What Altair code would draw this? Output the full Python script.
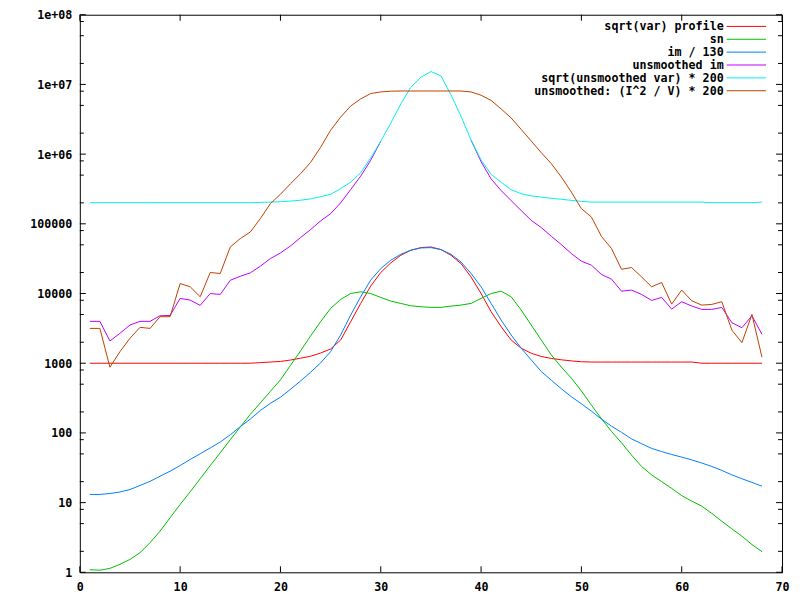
import altair as alt
import pandas as pd

x_vals = list(range(1, 69))

sqrt_var_profile = [1000, 1000, 1000, 1000, 1000, 1000, 1000, 1000, 1000, 1000,
                    1000, 1000, 1000, 1000, 1000, 1000, 1000, 1020, 1040, 1060,
                    1110, 1180, 1260, 1400, 1600, 2150, 3940, 7210, 12800, 20000,
                    27500, 35400, 41800, 45600, 46600, 42700, 35400, 26900, 17300, 10000,
                    5480, 3340, 2150, 1640, 1390, 1250, 1170, 1120, 1080, 1050,
                    1040, 1040, 1040, 1040, 1040, 1040, 1040, 1040, 1040, 1040,
                    1040, 1000, 1000, 1000, 1000, 1000, 1000, 1000]

sn = [1.09, 1.07, 1.14, 1.30, 1.53, 1.91, 2.66, 3.9, 6.06, 9.4,
      14.3, 22, 34, 52, 80, 122, 185, 270, 395, 577,
      930, 1500, 2450, 3940, 6110, 8230, 10000, 10600, 10000, 8790,
      7780, 7210, 6670, 6460, 6330, 6330, 6600, 6830, 7210, 8510,
      10000, 10800, 8980, 5790, 3530, 2150, 1315, 880, 610, 400,
      250, 160, 105, 72, 48, 33, 25, 20, 16, 12.6,
      10.5, 8.9, 7, 5.4, 4.2, 3.3, 2.5, 1.98]

im_130 = [13.1, 13.1, 13.5, 14.2, 15.4, 17.6, 20.2, 23.9, 28.2, 34,
          41.6, 50.3, 60.8, 74, 94, 123, 158, 210, 266, 325,
          422, 556, 740, 1010, 1466, 2540, 4910, 8980, 15600, 22800,
          30000, 36600, 41800, 45100, 45600, 42700, 36600, 28400, 19400, 12500,
          7210, 4160, 2540, 1640, 1115, 760, 570, 430, 330, 262,
          205, 158, 125, 102, 82, 70, 60, 54, 49, 45,
          41, 37, 33, 29, 25, 22, 19.5, 17.2]

unsmoothed_im = [3990, 3990, 2085, 2690, 3530, 3990, 3990, 4800, 4850, 8510,
                 8050, 6760, 10000, 9700, 15500, 17700, 19800, 24700, 31800, 38200,
                 48100, 63400, 82600, 110000, 140000, 200000, 310000, 484000, 818000, 1530000,
                 2790000, 5250000, 9100000, 12700000, 15300000, 13300000, 7100000, 3500000, 1590000, 780000,
                 440000, 300000, 215000, 155000, 112000, 88300, 66200, 50400, 37400, 29100,
                 25500, 18800, 16100, 10800, 11200, 9700, 7960, 8790, 5980, 7620,
                 6610, 5920, 5920, 6320, 3810, 3230, 4800, 2600]

sqrt_unsm_var = [201000, 201000, 201000, 201000, 201000, 201000, 201000, 201000, 201000, 201000,
                 201000, 201000, 201000, 201000, 201000, 201000, 201000, 203000, 205000, 208000,
                 212000, 218000, 228000, 245000, 265000, 320000, 395000, 540000, 880000, 1530000,
                 2790000, 5250000, 9100000, 12700000, 15300000, 13300000, 7100000, 3500000, 1590000, 824000,
                 513000, 395000, 309000, 270000, 252000, 242000, 232000, 225000, 217000, 210000,
                 205000, 205000, 205000, 205000, 205000, 205000, 205000, 205000, 205000, 205000,
                 205000, 205000, 201000, 201000, 201000, 201000, 201000, 205000]

unsm_i2_v = [3160, 3160, 877, 1465, 2280, 3270, 3160, 4650, 4650, 13900,
             12500, 8980, 20000, 19400, 46600, 61400, 76400, 119000, 195000, 265000,
             376000, 523000, 760000, 1250000, 2200000, 3400000, 4900000, 6200000, 7400000, 7800000,
             8000000, 8050000, 8050000, 8050000, 8050000, 8050000, 8050000, 8050000, 7800000, 7000000,
             5900000, 4450000, 3300000, 2260000, 1540000, 1050000, 730000, 470000, 285000, 165000,
             125000, 66000, 44200, 22300, 23600, 17300, 12500, 14400, 7050, 11200,
             7870, 6820, 6980, 7620, 2990, 1970, 5020, 1220]

series_names = ["sqrt(var) profile", "sn", "im / 130", "unsmoothed im",
                "sqrt(unsmoothed var) * 200", "unsmoothed: (I^2 / V) * 200"]
series_values = [sqrt_var_profile, sn, im_130, unsmoothed_im, sqrt_unsm_var, unsm_i2_v]
series_colors = ["#ff0000", "#00c000", "#0080ff", "#c000ff", "#00eeee", "#c04000"]

# stretch of "unsmoothed im" that lies exactly under the cyan curve (hidden in the original)
hidden_range = (31, 38)

x_ticks = [0, 10, 20, 30, 40, 50, 60, 70]
y_major = [1, 10, 100, 1000, 10000, 100000, 1000000, 10000000, 100000000]
y_minor = [m * d for d in [1, 10, 100, 1000, 10000, 100000, 1000000, 10000000] for m in (2, 5, 8)]

W, H = 704, 559
FONT = "DejaVu Sans Mono"
FS = 11.7

xscale = alt.Scale(domain=[0, 70], nice=False, zero=False)
yscale = alt.Scale(type="log", domain=[1, 1e8], nice=False)

xaxis = alt.Axis(values=x_ticks, tickSize=0, labelPadding=9, domain=False, grid=False,
                 title=None, labelFont=FONT, labelFontSize=FS, labelFontWeight="bold",
                 labelColor="black", labelFlush=False)
yaxis = alt.Axis(values=y_major, tickSize=0, labelPadding=8, domain=False, grid=False,
                 title=None, labelFont=FONT, labelFontSize=FS, labelFontWeight="bold",
                 labelColor="black", labelFlush=False,
                 labelExpr="datum.value >= 1000000 ? replace(format(datum.value, '.0e'), 'e+', 'e+0') : format(datum.value, 'd')")

X = lambda: alt.X("x:Q", scale=xscale, axis=xaxis)
Y = lambda: alt.Y("y:Q", scale=yscale, axis=yaxis)

layers = []

for name, vals, color in zip(series_names, series_values, series_colors):
    df = pd.DataFrame({"x": x_vals, "y": vals})
    base = alt.Chart(df).mark_line(strokeWidth=1, color=color, clip=True).encode(x=X(), y=Y())
    if name == "unsmoothed im":
        lo, hi = hidden_range
        layers.append(base.transform_filter(f"datum.x < {lo}"))
        layers.append(base.transform_filter(f"datum.x > {hi}"))
    else:
        layers.append(base)

# inward ticks (left/right for y, bottom/top for x)
ymaj = pd.DataFrame({"y": y_major})
ymin = pd.DataFrame({"y": y_minor})
xt = pd.DataFrame({"x": x_ticks})
tick_style = dict(color="black", strokeWidth=1)
layers += [
    alt.Chart(ymaj).mark_rule(**tick_style).encode(y=Y(), x=alt.value(0), x2=alt.value(6)),
    alt.Chart(ymaj).mark_rule(**tick_style).encode(y=Y(), x=alt.value(W - 6), x2=alt.value(W)),
    alt.Chart(ymin).mark_rule(**tick_style).encode(y=Y(), x=alt.value(0), x2=alt.value(4)),
    alt.Chart(ymin).mark_rule(**tick_style).encode(y=Y(), x=alt.value(W - 4), x2=alt.value(W)),
    alt.Chart(xt).mark_rule(**tick_style).encode(x=X(), y=alt.value(H), y2=alt.value(H - 6)),
    alt.Chart(xt).mark_rule(**tick_style).encode(x=X(), y=alt.value(0), y2=alt.value(6)),
]

# legend (gnuplot style, top right, text right-aligned, sample line after)
for i, (name, color) in enumerate(zip(series_names, series_colors)):
    ly = 11.7 + 12.9 * i
    ldf = pd.DataFrame({"label": [name]})
    layers.append(
        alt.Chart(ldf).mark_text(align="right", baseline="middle", font=FONT, fontSize=FS,
                                 fontWeight="bold", color="black")
        .encode(x=alt.value(645.5), y=alt.value(ly), text="label:N")
    )
    layers.append(
        alt.Chart(ldf).mark_rule(color=color, strokeWidth=1)
        .encode(x=alt.value(648.5), x2=alt.value(688), y=alt.value(ly))
    )

chart = alt.layer(*layers).properties(
    width=W, height=H,
    autosize=alt.AutoSizeParams(type="none"),
    padding={"left": 72, "top": 6, "right": 10, "bottom": 24},
    background="white",
).configure_view(stroke="black", strokeWidth=1)

chart.save("out.html", embed_options={"renderer": "svg", "actions": False})
